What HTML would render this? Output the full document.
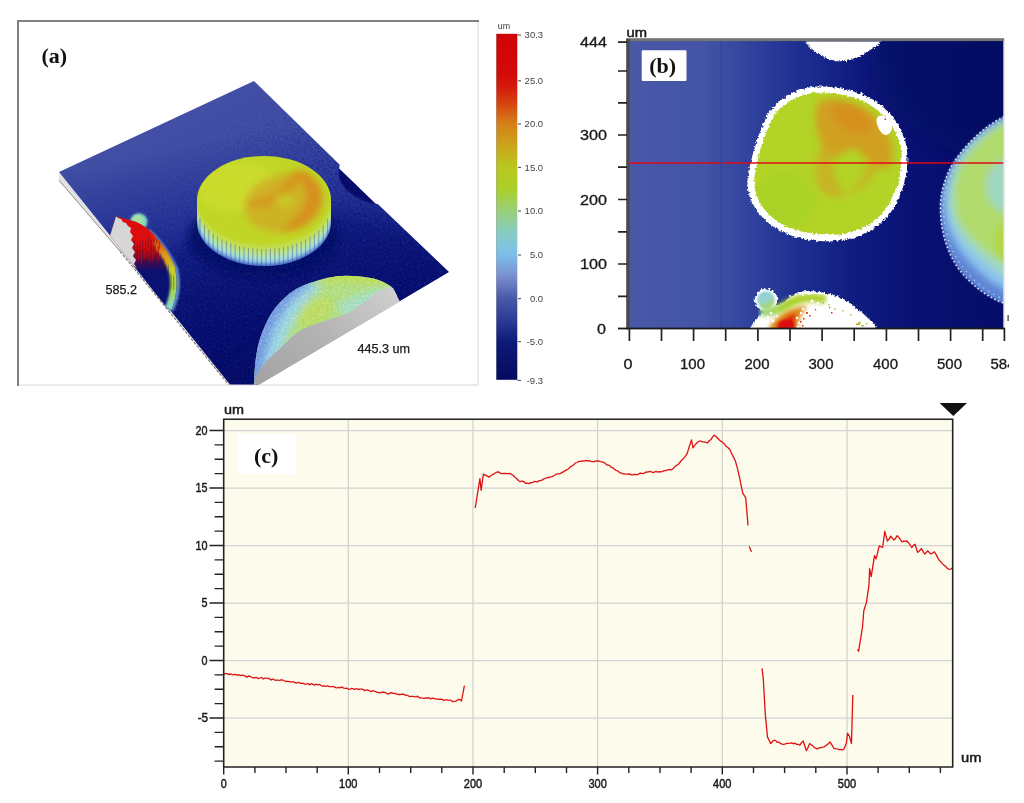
<!DOCTYPE html>
<html>
<head>
<meta charset="utf-8">
<title>Figure</title>
<style>
html,body{margin:0;padding:0;background:#fff;}
body{width:1024px;height:803px;overflow:hidden;}
svg{display:block;}
.sans{font-family:"Liberation Sans",sans-serif;}
.serif{font-family:"Liberation Serif",serif;font-weight:bold;}
</style>
</head>
<body>
<svg width="1024" height="803" viewBox="0 0 1024 803">
<defs>
  <linearGradient id="cbar" x1="0" y1="0" x2="0" y2="1">
    <stop offset="0" stop-color="#d00508"/>
    <stop offset="0.10" stop-color="#d2080a"/>
    <stop offset="0.15" stop-color="#d5160b"/>
    <stop offset="0.20" stop-color="#d5420f"/>
    <stop offset="0.26" stop-color="#d58018"/>
    <stop offset="0.32" stop-color="#cca21b"/>
    <stop offset="0.385" stop-color="#b8c81e"/>
    <stop offset="0.45" stop-color="#a9cf2a"/>
    <stop offset="0.51" stop-color="#99cf78"/>
    <stop offset="0.57" stop-color="#88cdbd"/>
    <stop offset="0.635" stop-color="#7cbfea"/>
    <stop offset="0.70" stop-color="#7a8fd0"/>
    <stop offset="0.765" stop-color="#4a58a8"/>
    <stop offset="0.83" stop-color="#2b3a94"/>
    <stop offset="0.89" stop-color="#0e1a78"/>
    <stop offset="1" stop-color="#050a5e"/>
  </linearGradient>
  <linearGradient id="slab" gradientUnits="userSpaceOnUse" x1="150" y1="100" x2="210" y2="380">
    <stop offset="0" stop-color="#4450a5"/>
    <stop offset="0.18" stop-color="#404ea4"/>
    <stop offset="0.39" stop-color="#2a3898"/>
    <stop offset="0.55" stop-color="#19268a"/>
    <stop offset="0.685" stop-color="#0f1978"/>
    <stop offset="0.85" stop-color="#080f6c"/>
    <stop offset="1" stop-color="#060c64"/>
  </linearGradient>
  <clipPath id="boxa"><rect x="19" y="21" width="459" height="363.5"/></clipPath>
  <clipPath id="slabclip"><polygon points="254,81 339.7,164.7 339,168.5 375.5,203.8 378,204.3 449,272 246,392 236,392 59,172"/></clipPath>
  <clipPath id="discall">
    <path d="M197,200 A67,44 0 0 1 331,200 L331,222 A67,44 0 0 1 197,222 Z"/>
  </clipPath>
  <clipPath id="disctop"><ellipse cx="264" cy="200" rx="66" ry="43"/></clipPath>
  <clipPath id="finclip">
    <path d="M110,236 L116,216.5 L136,222 C152,229 166,247 174.5,266 C178.5,283 176.5,298 171,311 L167,308 Z"/>
  </clipPath>
  <clipPath id="domeclip">
    <path d="M254,386 L254.5,372 C256,350 260,336 265,326 C270,314 276,306 284,298.5 C292,291 300,286 310,283 C322,278.5 334,276 345.5,275.8 C356,275.8 366,277 373.6,278.5 C380,280 386,283 391,286.4 C394,289 396,293 397.5,298 L398,300 L256,386 Z"/>
  </clipPath>
  <linearGradient id="graysec" gradientUnits="userSpaceOnUse" x1="260" y1="380" x2="395" y2="290">
    <stop offset="0" stop-color="#a4a4a4"/>
    <stop offset="0.5" stop-color="#b4b4b4"/>
    <stop offset="1" stop-color="#cfcfcf"/>
  </linearGradient>
  <linearGradient id="finbody" gradientUnits="userSpaceOnUse" x1="0" y1="240" x2="0" y2="272">
    <stop offset="0" stop-color="#dc0a0a"/>
    <stop offset="0.3" stop-color="#b00a14"/>
    <stop offset="0.65" stop-color="#4a0a4a"/>
    <stop offset="1" stop-color="#0a1170"/>
  </linearGradient>
  <linearGradient id="finrim" gradientUnits="userSpaceOnUse" x1="0" y1="222" x2="0" y2="308">
    <stop offset="0" stop-color="#dc0a0a"/>
    <stop offset="0.15" stop-color="#dc2a0c"/>
    <stop offset="0.35" stop-color="#e08a18"/>
    <stop offset="0.55" stop-color="#c8cc28"/>
    <stop offset="0.78" stop-color="#a4d848"/>
    <stop offset="1" stop-color="#8ed6d0"/>
  </linearGradient>
  <linearGradient id="bgB" gradientUnits="userSpaceOnUse" x1="629" y1="0" x2="1004" y2="0">
    <stop offset="0" stop-color="#4958a8"/>
    <stop offset="0.2" stop-color="#4354a6"/>
    <stop offset="0.3" stop-color="#34469f"/>
    <stop offset="0.45" stop-color="#1e2f92"/>
    <stop offset="0.6" stop-color="#101c80"/>
    <stop offset="0.75" stop-color="#091274"/>
    <stop offset="1" stop-color="#050c68"/>
  </linearGradient>
  <clipPath id="plotB"><rect x="629.5" y="41.5" width="374.5" height="286.5"/></clipPath>
  <clipPath id="circB"><path id="circBp" d="M818.7,92.5 C831.7,92.0 846.4,94.8 859.3,99.4 C868.6,103.0 879.8,110.3 887.2,119.6 C895.6,129.7 900.3,140.8 901.1,152.0 C902.5,165.9 900.2,182.5 891.7,199.1 C885.4,212.2 875.2,222.4 861.2,228.7 C848.3,234.2 834.4,236.0 820.7,234.0 C807.0,233.8 791.4,229.9 779.4,222.6 C768.3,215.4 760.0,205.3 756.4,194.3 C753.7,186.9 753.9,178.6 755.5,171.3 C756.0,164.0 758.0,158.5 759.9,151.1 C763.6,138.2 767.2,129.0 772.6,117.9 C778.0,108.5 790.9,99.2 802.1,95.6 C807.6,93.8 813.2,92.6 818.7,92.5Z"/></clipPath>
  <clipPath id="clip584"><rect x="985" y="350" width="24" height="30"/></clipPath>
  <clipPath id="rblob"><path d="M1006,116 C985,125 965,145 952,165 C944,180 940,195 940.5,210 C941,230 946,250 958,268 C970,284 988,298 1006,304 Z"/></clipPath>
  <filter id="rough" x="-5%" y="-5%" width="110%" height="110%">
    <feTurbulence type="fractalNoise" baseFrequency="0.38" numOctaves="2" seed="3" result="n"/>
    <feDisplacementMap in="SourceGraphic" in2="n" scale="4.5" xChannelSelector="R" yChannelSelector="G"/>
  </filter>
  <filter id="rough2" x="-5%" y="-5%" width="110%" height="110%">
    <feTurbulence type="fractalNoise" baseFrequency="0.7" numOctaves="2" seed="11" result="n"/>
    <feDisplacementMap in="SourceGraphic" in2="n" scale="4.5" xChannelSelector="R" yChannelSelector="G"/>
  </filter>
  <linearGradient id="bumpg" x1="0" y1="0" x2="0.4" y2="1">
    <stop offset="0" stop-color="#90c8e2"/>
    <stop offset="0.6" stop-color="#96d4cc"/>
    <stop offset="1" stop-color="#a6d66a"/>
  </linearGradient>
  <linearGradient id="arcg" gradientUnits="userSpaceOnUse" x1="762" y1="0" x2="824" y2="0">
    <stop offset="0" stop-color="#9fd884"/>
    <stop offset="0.4" stop-color="#a9d22c"/>
    <stop offset="1" stop-color="#b4d030"/>
  </linearGradient>
  <filter id="noiseW" x="0" y="0" width="100%" height="100%">
    <feTurbulence type="fractalNoise" baseFrequency="0.45" numOctaves="2" seed="5"/>
    <feColorMatrix type="matrix" values="0 0 0 0 1  0 0 0 0 1  0 0 0 0 1  3 0 0 0 -1.3"/>
  </filter>
  <filter id="noiseK" x="0" y="0" width="100%" height="100%">
    <feTurbulence type="fractalNoise" baseFrequency="0.45" numOctaves="2" seed="9"/>
    <feColorMatrix type="matrix" values="0 0 0 0 0  0 0 0 0 0  0 0 0 0 0.25  3 0 0 0 -1.3"/>
  </filter>
  <linearGradient id="noiseFade" gradientUnits="userSpaceOnUse" x1="150" y1="150" x2="260" y2="300">
    <stop offset="0" stop-color="#000"/>
    <stop offset="0.6" stop-color="#fff"/>
  </linearGradient>
  <mask id="noiseMask"><rect x="0" y="0" width="500" height="400" fill="url(#noiseFade)"/></mask>
  <filter id="b1"><feGaussianBlur stdDeviation="1"/></filter>
  <filter id="b2"><feGaussianBlur stdDeviation="2"/></filter>
  <filter id="b3"><feGaussianBlur stdDeviation="3.5"/></filter>
  <filter id="b12" x="-30%" y="-30%" width="160%" height="160%"><feGaussianBlur stdDeviation="14"/></filter>
  <filter id="b6"><feGaussianBlur stdDeviation="6"/></filter>
</defs>

<!-- ============ PANEL (a) ============ -->
<g id="panelA">
  <rect x="18.5" y="20.5" width="459.5" height="364" fill="#fff" stroke="none"/>
  <line x1="17" y1="21" x2="479" y2="21" stroke="#808080" stroke-width="2"/>
  <line x1="18" y1="20" x2="18" y2="386" stroke="#808080" stroke-width="2"/>
  <line x1="19" y1="385" x2="479" y2="385" stroke="#ebebeb" stroke-width="1.8"/>
  <line x1="478" y1="22" x2="478" y2="386" stroke="#ebebeb" stroke-width="1.9"/>
  <g clip-path="url(#boxa)">
    <!-- slab side (thickness) -->
    <polygon points="59,172 59,180 120,251 236,393.5 238,392" fill="#e2e2e2"/><line x1="59" y1="180.3" x2="120" y2="251.3" stroke="#8a8a8a" stroke-width="1"/><line x1="120" y1="251.3" x2="236" y2="393.8" stroke="#777" stroke-width="1.1" stroke-dasharray="3 1.5"/>
    <!-- slab top -->
    <polygon points="254,81 339.7,164.7 339,168.5 375.5,203.8 378,204.3 449,272 246,392 236,392 59,172" fill="url(#slab)"/>
  </g>
  <g clip-path="url(#boxa)">
    <g clip-path="url(#slabclip)">
      <!-- darkening towards center / right -->
      <ellipse cx="300" cy="300" rx="150" ry="90" fill="#060d6a" opacity="0.3" filter="url(#b6)"/>
      <!-- trench around disc -->
      <ellipse cx="264" cy="238" rx="76" ry="40" fill="#050b62" opacity="0.8" filter="url(#b3)"/>
      <path d="M339.3,167.5 C336.5,176 341,186 349,192.5 C357,199 367,203 377,204.5 Z" fill="#050a66"/>
      <path d="M339.3,167.5 C336.5,176 341,186 349,192.5 C357,199 367,203 377,204.5" fill="none" stroke="#2a3a9c" stroke-width="1.2" opacity="0.6" filter="url(#b1)"/>
      <g mask="url(#noiseMask)">
        <rect x="50" y="80" width="410" height="310" filter="url(#noiseW)" opacity="0.05"/>
        <rect x="50" y="80" width="410" height="310" filter="url(#noiseK)" opacity="0.3"/>
      </g>
    </g>
    <!-- disc wall -->
    <g clip-path="url(#discall)">
      <rect x="190" y="150" width="150" height="70" fill="#c0d628"/><rect x="190" y="220" width="150" height="55" fill="#4f70c8"/>
      <g filter="url(#b1)">
        <ellipse cx="264" cy="220" rx="67" ry="44" fill="#86bde0"/>
        <ellipse cx="264" cy="217" rx="67" ry="44" fill="#a6dfd0"/>
        <ellipse cx="264" cy="213" rx="67" ry="44" fill="#b6e39c"/>
        <ellipse cx="264" cy="209" rx="67" ry="44" fill="#c0df68"/>
        <ellipse cx="264" cy="205" rx="67" ry="44" fill="#c1dd48"/>
        <ellipse cx="264" cy="201.5" rx="66.5" ry="43.5" fill="#c0d628"/>
      </g>
      <g stroke="#2a3ea8" stroke-width="1" opacity="0.42">
        <path d="M200.0,218.0v17.0M204.4,225.1v17.0M208.8,229.9v17.0M213.2,233.7v17.0M217.6,236.7v17.0M222.0,239.3v17.0M226.4,241.4v17.0M230.8,243.2v17.0M235.2,244.7v17.0M239.6,246.0v17.0M244.0,247.0v17.0M248.4,247.8v17.0M252.8,248.4v17.0M257.2,248.8v17.0M261.6,249.0v17.0M266.0,249.0v17.0M270.4,248.8v17.0M274.8,248.4v17.0M279.2,247.9v17.0M283.6,247.1v17.0M288.0,246.1v17.0M292.4,244.9v17.0M296.8,243.4v17.0M301.2,241.6v17.0M305.6,239.5v17.0M310.0,237.0v17.0M314.4,234.0v17.0M318.8,230.3v17.0M323.2,225.6v17.0M327.6,218.8v17.0"/>
      </g>
      <g stroke="#e8fbf4" stroke-width="1" opacity="0.1">
        <path d="M202.2,224.0v12.0M206.6,229.7v12.0M211.0,233.9v12.0M215.4,237.3v12.0M219.8,240.1v12.0M224.2,242.4v12.0M228.6,244.4v12.0M233.0,246.0v12.0M237.4,247.4v12.0M241.8,248.5v12.0M246.2,249.4v12.0M250.6,250.1v12.0M255.0,250.6v12.0M259.4,250.9v12.0M263.8,251.0v12.0M268.2,250.9v12.0M272.6,250.6v12.0M277.0,250.2v12.0M281.4,249.5v12.0M285.8,248.6v12.0M290.2,247.5v12.0M294.6,246.1v12.0M299.0,244.5v12.0M303.4,242.6v12.0M307.8,240.3v12.0M312.2,237.6v12.0M316.6,234.3v12.0M321.0,230.1v12.0M325.4,224.6v12.0"/>
      </g>
    </g>
    <!-- disc top -->
    <g clip-path="url(#disctop)">
      <g filter="url(#b3)">
        <ellipse cx="236" cy="186" rx="40" ry="26" fill="#cbdb2e" opacity="0.9"/>
        <ellipse cx="284" cy="203" rx="40" ry="29" fill="#d2a422" opacity="0.7" transform="rotate(-12 284 203)"/>
        <path d="M297,170 C310,170 322,182 322,196 C322,210 312,222 300,228 C292,232 284,232 280,230 C296,220 306,208 306,196 C306,186 302,178 292,176Z" fill="#d98a1c" opacity="0.85"/>
        <path d="M298,170 C290,172 286,180 280,188 C270,196 254,198 244,204 C250,210 262,208 274,204 C286,198 296,188 304,178Z" fill="#d6941e" opacity="0.8"/>
        <ellipse cx="284" cy="200" rx="9" ry="6" fill="#c8d42a" opacity="0.7"/>
      </g>
    </g>
    <!-- left red fin -->
    <circle cx="138.8" cy="221.8" r="8.6" fill="#86d7c4" filter="url(#b1)"/>
    <circle cx="137.5" cy="220" r="5" fill="#a4dfa0" filter="url(#b1)"/>
    <path d="M148,230.6 C160,241 170,256 176,268.5 C179.5,283 177.5,298 171.5,310.5" fill="none" stroke="#8cc8ee" stroke-width="4" opacity="0.7" filter="url(#b1)"/>
    <g clip-path="url(#finclip)">
      <rect x="105" y="205" width="80" height="110" fill="url(#finbody)"/>
      <path d="M156,236 L162,262 L164,300 L180,310 L185,240 Z" fill="#0a1170" opacity="0" />
      <path d="M129,219 C148,226 160,241 170,256 C173,262 176,268.5 177,275 C178.5,285 177.5,298 171.5,311" fill="none" stroke="url(#finrim)" stroke-width="15" filter="url(#b1)"/>
      <path d="M114,214 L136,220 L150,229 L154,240 L150,250 L132,250 L128,226Z" fill="#dc0a0a" filter="url(#b1)"/>
      <path d="M133.0,245.0v13.4M135.8,246.4v14.3M138.6,244.1v16.4M141.4,244.9v18.0M144.2,247.3v12.8M147.0,244.6v14.3M149.8,246.1v15.4M152.6,244.3v15.6M155.4,245.2v8.3M158.2,245.9v15.2" stroke="#c80a10" stroke-width="1.2" fill="none" opacity="0.75"/>
      <path d="M134.4,240.7v9.4M137.2,244.0v10.0M140.0,240.5v11.5M142.8,240.1v12.6M145.6,241.5v8.9M148.4,237.4v10.0M151.2,240.1v10.8M154.0,238.7v10.9M156.8,238.0v5.8M159.6,238.6v10.6" stroke="#3a0a40" stroke-width="1" fill="none" opacity="0.45"/>
      <path d="M158.0,251.3v21.1M160.6,253.5v19.6M163.2,258.0v21.2M165.8,264.8v11.2M168.4,264.5v12.6M171.0,273.6v15.2M173.6,275.7v13.6" stroke="#0a1170" stroke-width="1" fill="none" opacity="0.35"/>
      <polygon points="114,214 118,218 121,219 123,222 126,223 128,226 131,228 130,232 133,236 131,240 134,244 132,248 135,252 133,256 136,260 134,264 137,268 120,256 108,240" fill="#d6d6d6"/>
    </g>
    <!-- bottom right dome -->
    <g clip-path="url(#domeclip)">
      <rect x="240" y="265" width="170" height="125" fill="#addb7c"/>
      <g filter="url(#b3)">
        <path d="M246,392 L246,340 C256,306 284,282 316,272 L306,292 C282,310 270,350 266,392Z" fill="#6f98e0"/>
        <path d="M262,392 C262,344 280,304 314,282 L322,288 C296,306 280,344 276,392Z" fill="#96d4e6" opacity="0.9"/>
        <path d="M336,304 C356,294 380,287 398,286 L400,300 L350,324Z" fill="#a2dcc0"/>
        <path d="M326,268 C350,266 380,270 402,284 L396,291 C380,283 350,279 326,283Z" fill="#bcdc50"/>
        <ellipse cx="315" cy="312" rx="22" ry="12" fill="#bcda52" opacity="0.7" transform="rotate(-35 315 312)"/>
      </g>
      <rect x="240" y="265" width="170" height="125" filter="url(#noiseW)" opacity="0.25"/>
    </g>
    <path d="M253,386 L257,374 C262,366 270,357 279,349.5 C286,343 292,336 298,332 C306,327 312,325 319,323 C328,320 338,317 345.5,314.5 C354,310 360,305 366.6,300.4 C372,296 378,291 384,289 C388,287 391,287 393,288 L398,298 L400,301.5 L250,390Z" fill="url(#graysec)"/>
  </g>
  <text x="41.5" y="63" class="serif" font-size="22" fill="#111">(a)</text>
  <text x="105.5" y="293.5" class="sans" font-size="12.6" fill="#1a1a1a" stroke="#1a1a1a" stroke-width="0.25">585.2</text>
  <text x="357.5" y="352.5" class="sans" font-size="12.6" fill="#1a1a1a" stroke="#1a1a1a" stroke-width="0.25">445.3 um</text>
</g>

<!-- ============ COLORBAR ============ -->
<g id="cbarg">
  <rect x="496.3" y="33.8" width="21" height="346" fill="url(#cbar)"/><line x1="496.5" y1="34" x2="496.5" y2="380" stroke="#555" stroke-width="0.5" opacity="0.5"/>
  <text x="497.8" y="28.8" class="sans" font-size="9.4" fill="#3c3c3c" textLength="12.3" lengthAdjust="spacingAndGlyphs">um</text>
  <g class="sans" font-size="9.5" fill="#444">
    <text x="524.6" y="38.3">30.3</text>
    <text x="524.6" y="84.1">25.0</text>
    <text x="524.6" y="127.4">20.0</text>
    <text x="524.6" y="170.8">15.0</text>
    <text x="524.6" y="214.4">10.0</text>
    <text x="529.9" y="258.4">5.0</text>
    <text x="529.9" y="302">0.0</text>
    <text x="526.7" y="345.4">-5.0</text>
    <text x="526.7" y="384">-9.3</text>
  </g>
  <g stroke="#444" stroke-width="1">
    <line x1="517.5" y1="35" x2="521" y2="35"/>
    <line x1="518" y1="80.8" x2="521" y2="80.8"/>
    <line x1="518" y1="124" x2="521" y2="124"/>
    <line x1="518" y1="167.4" x2="521" y2="167.4"/>
    <line x1="518" y1="211" x2="521" y2="211"/>
    <line x1="518" y1="255" x2="521" y2="255"/>
    <line x1="518" y1="298.7" x2="521" y2="298.7"/>
    <line x1="518" y1="341.7" x2="521" y2="341.7"/>
    <line x1="517.5" y1="380.3" x2="521" y2="380.3"/>
  </g>
</g>

<!-- ============ PANEL (b) ============ -->
<g id="panelB">
  <rect x="629" y="41" width="375" height="287.5" fill="url(#bgB)"/>
  <g clip-path="url(#plotB)">
    <!-- vertical band lighter at left -->
    <ellipse cx="1010" cy="50" rx="140" ry="110" fill="#03085c" opacity="0.5" filter="url(#b12)"/>
    <line x1="721.3" y1="41" x2="721.3" y2="328" stroke="#2a3e9c" stroke-width="1"/>
    <!-- top white partial circle -->
    <path d="M803,36 L806,43 C812,50 822,57 832,60 C838,61.8 846,61.8 852,59.5 C862,56 874,48 881,42 L884,36Z" fill="#fff" filter="url(#rough)"/>
    <!-- right partial blob -->
    <g>
      <path d="M1006,116 C985,125 965,145 952,165 C944,180 940,195 940.5,210 C941,230 946,250 958,268 C970,284 988,298 1006,304 Z" fill="#5f86d6" filter="url(#b1)"/>
      <g clip-path="url(#rblob)">
        <g filter="url(#b3)">
          <path d="M1010,116 C985,126 964,146 953,166 C946,181 943,196 944.5,210 C946,228 954,244 966,258 C978,272 992,284 1010,292 Z" fill="#8cc4ec"/>
          <path d="M1010,118 C986,128 966,147 955,167 C949,182 947,197 949,210 C952,226 961,240 974,252 C986,264 998,274 1010,280 Z" fill="#9fd8c6"/>
          <path d="M1010,120 C988,130 969,150 959,169 C952,188 953,205 958,219 C965,235 980,250 1010,268 Z" fill="#b0da6c"/>
          <ellipse cx="1006" cy="186" rx="20" ry="26" fill="#9fd6c0"/>
          <ellipse cx="1008" cy="242" rx="12" ry="22" fill="#b2d63a"/>
        </g>
      </g>
      <path d="M1004,117 C985,125 965,145 952,165 C944,180 940,195 940.5,210 C941,230 946,250 958,268 C970,284 988,298 1004,303" fill="none" stroke="#fff" stroke-width="1.6" stroke-dasharray="1.5 2.5" opacity="0.9"/>
      <path d="M1004,120 C987,128 968,147 955,167 C947,182 943,196 943.5,210 C944,229 949,248 961,265 C972,280 989,294 1004,299" fill="none" stroke="#fff" stroke-width="1.2" stroke-dasharray="1 5" opacity="0.7"/>
    </g>
    <!-- bottom partial circle -->
    <g>
      <g filter="url(#rough)">
        <circle cx="766" cy="300" r="11.3" fill="#fff"/>
        <path d="M748,332 C752,324 756,319 762,314 C770,308 778,305 784,302.5 C790,297 796,292.5 804,291.3 C812,290.5 822,292 832,294.5 C842,297.5 850,302 858,309 C866,316 873,322 880,332 Z" fill="#fff"/>
      </g>
      <circle cx="766" cy="300" r="8.8" fill="url(#bumpg)" filter="url(#b1)"/>
      <g filter="url(#b2)">
        <path d="M764,312 C772,313 780,309 788,304 C798,298 808,296 822,299" fill="none" stroke="url(#arcg)" stroke-width="9" stroke-linecap="round"/>
        <path d="M768,330 C772,320 782,313 792,309 C798,307 804,306 808,306 C802,312 798,320 797,332Z" fill="#dd8a18"/>
        <path d="M774,332 C778,322 786,316 796,313 C794,320 795,326 795,332Z" fill="#dc0a0a"/>
      </g>
      <ellipse cx="786" cy="325" rx="8" ry="5" fill="#dc0a0a" filter="url(#b1)"/>
      <g fill="#fff">
        <circle cx="762" cy="322" r="1.5"/><circle cx="768" cy="317" r="1.3"/><circle cx="773" cy="321" r="1.4"/><circle cx="766" cy="326" r="1.2"/><circle cx="771" cy="313" r="1.2"/><circle cx="759" cy="326" r="1.3"/><circle cx="777" cy="316" r="1"/>
        <circle cx="797" cy="318" r="1.2"/><circle cx="799" cy="323" r="1.3"/><circle cx="801" cy="313" r="1.2"/><circle cx="798" cy="327" r="1.2"/><circle cx="803" cy="309" r="1.3"/><circle cx="812" cy="301" r="1.6"/><circle cx="818" cy="303" r="1.2"/>
        <circle cx="790" cy="296" r="1"/><circle cx="796" cy="294" r="1"/><circle cx="803" cy="295" r="1"/><circle cx="809" cy="294" r="1"/>
      </g>
      <g fill="#dc2a12">
        <rect x="806" y="312" width="1.8" height="1.8"/><rect x="809" y="315" width="1.5" height="1.5"/><rect x="803" y="318" width="1.5" height="1.5"/><rect x="800" y="321" width="1.5" height="1.5"/><rect x="815" y="309" width="1.2" height="1.2"/><rect x="831" y="312" width="1.5" height="1.5"/><rect x="829" y="307" width="1.2" height="1.2"/><rect x="802" y="325" width="1.5" height="1.5"/>
      </g>
      <g fill="#9ccf40">
        <rect x="822" y="302" width="2" height="1.5"/><rect x="828" y="304" width="1.5" height="1.5"/><rect x="834" y="308" width="1.5" height="1.5"/><rect x="842" y="310" width="1.5" height="1.5"/><rect x="850" y="314" width="1.5" height="1.5"/><rect x="858" y="322" width="3" height="1.5"/><rect x="861" y="325" width="3" height="1.5"/><rect x="866" y="323" width="1.5" height="1.5"/>
      </g>
      <rect x="856" y="323.5" width="4" height="1.5" fill="#d8901c"/>
    </g>
    <!-- main circle -->
    <path d="M818,86.5 C832,86 848,89 862,94 C872,98 884,106 892,116 C901,127 906,139 907,151 C908.5,166 906,184 897,202 C890,216 879,227 864,234 C850,240 835,242 820,241 C805,240.5 788,236 775,228 C763,220 754,209 750,197 C747,189 747,180 748.5,172 C750,164 752,158 754,150 C758,136 762,126 768,114 C774,104 788,94 800,90 C806,88 812,86.7 818,86.5Z" fill="#fff" filter="url(#rough)"/>
    <path d="M818.7,92.5 C831.7,92.0 846.4,94.8 859.3,99.4 C868.6,103.0 879.8,110.3 887.2,119.6 C895.6,129.7 900.3,140.8 901.1,152.0 C902.5,165.9 900.2,182.5 891.7,199.1 C885.4,212.2 875.2,222.4 861.2,228.7 C848.3,234.2 834.4,236.0 820.7,234.0 C807.0,233.8 791.4,229.9 779.4,222.6 C768.3,215.4 760.0,205.3 756.4,194.3 C753.7,186.9 753.9,178.6 755.5,171.3 C756.0,164.0 758.0,158.5 759.9,151.1 C763.6,138.2 767.2,129.0 772.6,117.9 C778.0,108.5 790.9,99.2 802.1,95.6 C807.6,93.8 813.2,92.6 818.7,92.5Z" fill="#b3d326" filter="url(#rough)"/>
    <g clip-path="url(#circB)">
      <g filter="url(#b3)">
        <ellipse cx="785" cy="200" rx="30" ry="28" fill="#a8d228" opacity="0.8"/>
        <path d="M820,101 C834,95 862,102 878,119 C890,133 896,150 890,166 C882,172 870,164 860,152 C852,146 844,150 836,158 C826,156 818,140 816,124 C815,112 816,104 820,101Z" fill="#d6971f" opacity="0.85"/>
        <ellipse cx="852" cy="118" rx="22" ry="12" fill="#d98a1c" opacity="0.7" transform="rotate(30 852 118)"/>
        <path d="M826,140 C816,150 812,170 818,186 C824,196 836,200 846,196 C838,186 830,170 834,150Z" fill="#cfa824" opacity="0.7"/>
        <path d="M846,196 C860,192 872,180 880,166 L868,160 C864,176 856,186 846,196Z" fill="#cfa824" opacity="0.6"/>
      </g>
    </g>
    <path d="M879,116 C884,114 890,118 892,124 C893,130 890,134 886,135 C882,135 880,131 878,127 C876,122 876,118 879,116Z" fill="#fff"/>
    <rect x="884.5" y="118.5" width="1.5" height="1.5" fill="#e02020"/>
    <!-- red line -->
    <line x1="629" y1="163" x2="1004" y2="163" stroke="#e00a14" stroke-width="1.6"/>
    <rect x="720.3" y="161.5" width="2" height="3" fill="#34469f"/>
  </g>
  <!-- axes -->
  <rect x="626.2" y="38.2" width="378" height="2.9" fill="#747470"/>
  <rect x="626.2" y="38.8" width="3.4" height="290.5" fill="#4a4a4a"/>
  <rect x="1003.3" y="41" width="1.8" height="287" fill="#e8e8e8"/>
  <rect x="618" y="327.6" width="387" height="1.8" fill="#1a1a1a"/>
  <rect x="1007.5" y="315" width="1.2" height="6" fill="#333"/>
  <g stroke="#222" stroke-width="1.7">
    <path d="M618,42.2H627 M618,71H627 M618,102.9H627 M618,135H627 M618,167.2H627 M618,199.5H627 M618,231.8H627 M618,264H627 M618,296.3H627"/>
    <path d="M629.4,328V341 M661.5,328V341 M693.6,328V341 M725.7,328V341 M757.9,328V341 M790,328V341 M822.1,328V341 M854.2,328V341 M886.4,328V341 M918.5,328V341 M950.6,328V341 M982.7,328V341 M1004.4,328V341"/>
  </g>
  <g class="sans" font-size="14" fill="#1a1a1a" stroke="#1a1a1a" stroke-width="0.3">
    <text x="580" y="47.3" textLength="27" lengthAdjust="spacingAndGlyphs">444</text>
    <text x="580" y="140" textLength="27" lengthAdjust="spacingAndGlyphs">300</text>
    <text x="580" y="204.5" textLength="27" lengthAdjust="spacingAndGlyphs">200</text>
    <text x="580" y="269" textLength="27" lengthAdjust="spacingAndGlyphs">100</text>
    <text x="597" y="333.5" textLength="9" lengthAdjust="spacingAndGlyphs">0</text>
    <text x="623.5" y="369.3" textLength="9" lengthAdjust="spacingAndGlyphs">0</text>
    <text x="680" y="369.3" textLength="25" lengthAdjust="spacingAndGlyphs">100</text>
    <text x="744.5" y="369.3" textLength="25" lengthAdjust="spacingAndGlyphs">200</text>
    <text x="808.5" y="369.3" textLength="25" lengthAdjust="spacingAndGlyphs">300</text>
    <text x="873" y="369.3" textLength="25" lengthAdjust="spacingAndGlyphs">400</text>
    <text x="937" y="369.3" textLength="25" lengthAdjust="spacingAndGlyphs">500</text>
    <text x="990.5" y="369.3" textLength="25" lengthAdjust="spacingAndGlyphs" clip-path="url(#clip584)">584</text>
  </g>
  <text x="626.5" y="36.8" class="sans" font-size="12.5" fill="#1a1a1a" stroke="#1a1a1a" stroke-width="0.45" textLength="20.5" lengthAdjust="spacingAndGlyphs">um</text>
  <rect x="641.7" y="50.2" width="44.8" height="30.7" rx="1.2" fill="#fff"/>
  <text x="649.3" y="73" class="serif" font-size="22" fill="#111">(b)</text>
</g>


<!-- PANEL_C_START -->
<!-- ============ PANEL (c) ============ -->
<g id="panelC">
  <rect x="224.0" y="419.5" width="729.0" height="347.5" fill="#fdfbec"/>
  <path d="M348.3,419.5V767.0 M473.0,419.5V767.0 M597.6,419.5V767.0 M722.3,419.5V767.0 M847.0,419.5V767.0 M224.0,430.5H953.0 M224.0,488.0H953.0 M224.0,545.5H953.0 M224.0,603.0H953.0 M224.0,660.5H953.0 M224.0,718.0H953.0" stroke="#d2d2d2" stroke-width="1.25" fill="none"/>
  <rect x="237.5" y="434" width="58.7" height="40.3" fill="#fff"/>
  <path d="M224.0,673.8 L225.6,673.7 L227.3,673.6 L228.9,674.6 L230.5,673.8 L232.2,674.8 L233.8,674.7 L235.5,674.3 L237.1,675.3 L238.7,674.7 L240.4,675.6 L242.0,675.1 L243.6,675.4 L245.3,676.1 L246.9,677.1 L248.5,676.0 L250.2,676.4 L251.8,677.3 L253.5,678.0 L255.1,677.6 L256.7,677.4 L258.4,678.7 L260.0,678.0 L261.6,677.4 L263.2,679.0 L264.8,678.2 L266.4,678.2 L268.0,678.3 L269.6,678.9 L271.2,680.0 L272.8,679.0 L274.4,679.9 L276.0,680.3 L277.6,680.0 L279.2,680.5 L280.8,679.8 L282.4,680.0 L284.0,680.5 L285.6,681.5 L287.2,681.3 L288.8,681.3 L290.4,682.0 L292.0,681.9 L293.6,681.8 L295.2,682.9 L296.8,683.0 L298.4,682.3 L300.0,683.0 L301.6,683.3 L303.2,683.4 L304.9,684.2 L306.5,684.1 L308.1,683.5 L309.7,684.9 L311.3,683.6 L313.0,684.3 L314.6,685.1 L316.2,684.2 L317.8,685.0 L319.4,684.3 L321.1,685.6 L322.7,686.0 L324.3,685.8 L325.9,686.5 L327.6,685.7 L329.2,686.6 L330.8,686.6 L332.4,686.7 L334.0,686.7 L335.7,687.6 L337.3,687.9 L338.9,687.3 L340.5,687.8 L342.1,686.9 L343.8,688.2 L345.4,688.3 L347.0,688.2 L348.6,689.3 L350.2,689.2 L351.8,688.4 L353.4,688.8 L355.0,689.5 L356.6,688.5 L358.2,689.5 L359.8,689.1 L361.5,689.2 L363.1,689.3 L364.7,690.8 L366.3,689.8 L367.9,690.2 L369.5,690.7 L371.1,691.7 L372.7,690.5 L374.3,691.4 L375.9,691.7 L377.5,692.5 L379.1,692.6 L380.7,692.9 L382.3,692.0 L383.9,692.4 L385.5,692.5 L387.2,693.7 L388.8,694.0 L390.4,692.7 L392.0,693.0 L393.6,693.3 L395.2,693.4 L396.8,694.1 L398.4,694.5 L400.0,694.5 L401.6,694.3 L403.2,694.0 L404.8,695.0 L406.4,695.1 L408.1,695.7 L409.7,696.6 L411.3,696.4 L412.9,696.3 L414.5,696.7 L416.1,697.0 L417.7,696.1 L419.3,697.8 L420.9,697.8 L422.6,698.2 L424.2,698.3 L425.8,697.8 L427.4,698.0 L429.0,697.7 L430.6,698.9 L432.2,698.1 L433.8,698.3 L435.4,698.8 L437.1,698.9 L438.7,699.5 L440.3,699.2 L441.9,699.3 L443.5,700.4 L445.3,699.9 L447.1,699.9 L448.9,700.5 L450.6,700.0 L452.4,701.6 L454.2,701.3 L456.0,701.2 L458.0,699.7 L460.0,699.5 L461.5,701.0 L463.0,693.0 L463.6,690.0 L464.4,685.7 M475.2,507.9 L477.6,493.2 L479.9,478.6 L481.1,490.3 L483.4,474.2 L486.4,475.7 L489.3,477.1 L491.1,475.5 L493.0,474.4 L494.8,473.2 L496.6,472.2 L498.5,471.9 L500.3,473.2 L502.1,473.7 L504.0,473.3 L505.8,473.5 L507.6,473.7 L509.5,473.4 L511.3,474.2 L513.1,475.3 L515.0,477.2 L516.8,478.7 L518.6,480.7 L520.3,481.6 L522.0,481.2 L523.8,481.5 L525.5,483.3 L527.2,483.2 L528.9,483.6 L530.6,482.6 L532.3,482.7 L534.0,481.5 L535.7,481.7 L537.4,481.9 L539.1,480.7 L540.7,480.7 L542.4,479.9 L544.0,478.7 L545.6,478.3 L547.3,477.5 L548.9,477.7 L550.5,476.9 L552.2,476.6 L553.8,475.7 L555.5,474.7 L557.1,473.8 L558.8,473.9 L560.5,473.4 L562.2,472.4 L563.8,471.6 L565.5,470.4 L567.2,469.7 L568.8,468.5 L570.5,466.6 L572.2,465.9 L573.9,464.6 L575.5,463.0 L577.2,462.5 L579.0,461.4 L580.7,461.4 L582.5,460.9 L584.2,461.1 L586.0,460.4 L587.6,461.2 L589.2,460.6 L590.9,461.4 L592.5,461.6 L594.1,461.7 L595.7,461.0 L597.4,460.9 L599.0,461.1 L600.6,461.6 L602.4,461.9 L604.1,462.7 L605.9,464.1 L607.6,465.2 L609.4,465.4 L611.1,467.1 L612.8,467.8 L614.5,469.3 L616.3,470.7 L618.0,470.9 L619.7,472.7 L621.4,473.2 L623.0,473.8 L624.6,473.9 L626.3,474.1 L628.0,474.0 L629.6,473.8 L631.2,474.9 L632.9,474.8 L634.5,474.3 L636.1,474.6 L637.8,474.6 L639.4,473.5 L641.0,473.2 L642.6,473.7 L644.3,473.1 L645.9,472.0 L647.5,472.2 L649.2,471.6 L650.8,471.5 L652.5,472.5 L654.2,472.3 L655.9,471.3 L657.5,472.1 L659.2,471.6 L660.9,472.0 L662.6,471.3 L664.3,470.6 L665.9,470.6 L667.6,469.8 L669.3,469.4 L671.0,469.8 L672.8,469.0 L674.5,467.1 L676.3,465.5 L678.0,464.6 L679.8,462.5 L681.6,460.2 L683.5,458.6 L685.3,456.4 L687.1,453.7 L689.3,446.4 L691.5,439.9 L692.9,447.8 L694.9,445.2 L696.8,443.0 L698.8,441.1 L700.6,441.1 L702.3,441.9 L704.1,441.8 L705.8,442.4 L707.6,442.9 L709.3,440.5 L711.0,439.6 L712.6,436.9 L714.3,435.2 L716.3,436.8 L718.2,438.7 L720.2,440.9 L722.2,442.0 L724.1,443.7 L725.9,446.2 L727.8,447.5 L729.6,449.3 L731.5,453.2 L733.5,457.1 L735.4,461.0 L737.6,469.1 L739.8,478.6 L742.7,493.2 L745.7,497.6 L748.0,525.5 M749.2,546.6 L751.5,551.8 M762.0,668.4 L763.3,678.8 L765.3,714.4 L767.5,737.1 L769.1,740.3 L770.8,743.6 L772.4,741.5 L774.0,740.4 L775.6,740.4 L777.2,742.4 L778.9,742.2 L780.5,743.4 L782.1,744.2 L783.7,744.3 L785.3,743.9 L787.0,743.3 L788.6,743.4 L790.2,743.2 L791.8,742.9 L793.4,743.8 L795.0,743.2 L796.7,744.4 L798.3,744.3 L799.9,745.2 L801.5,742.7 L803.2,741.0 L806.4,750.7 L808.0,747.6 L809.7,743.6 L811.3,744.8 L813.0,746.1 L814.6,747.7 L816.2,748.5 L817.8,748.8 L819.4,747.7 L821.1,747.7 L822.7,747.1 L824.3,746.8 L826.2,745.2 L828.2,743.9 L830.1,742.0 L832.0,745.2 L834.0,748.5 L835.6,748.7 L837.2,748.8 L838.9,749.7 L840.5,749.4 L842.1,749.9 L843.7,749.4 L846.3,743.6 L847.6,733.2 L849.5,736.5 L851.5,743.6 L852.8,695.0 M857.3,649.6 L858.6,651.2 L860.5,639.6 L862.5,626.9 L863.8,610.7 L866.4,602.6 L869.0,584.8 L869.6,568.6 L871.2,576.7 L872.9,565.9 L874.5,555.6 L876.1,558.9 L879.3,545.9 L881.0,546.8 L882.6,547.5 L884.8,531.3 L887.4,541.0 L889.0,539.1 L890.7,536.2 L893.9,540.1 L895.5,538.3 L897.2,535.6 L899.6,538.4 L902.0,542.0 L903.6,541.2 L905.3,541.3 L906.9,541.0 L908.5,542.7 L910.1,545.0 L911.7,547.5 L913.4,545.4 L915.0,544.3 L917.6,552.4 L919.5,550.7 L921.5,548.5 L923.1,551.6 L924.7,554.0 L927.9,550.8 L929.5,552.9 L931.2,554.0 L934.4,551.8 L936.3,554.9 L938.3,558.9 L940.2,561.3 L942.2,563.4 L944.1,565.4 L945.7,566.3 L947.4,568.5 L949.0,569.3 L950.6,569.2 L952.2,568.0" fill="none" stroke="#de1212" stroke-width="1.3" stroke-linejoin="round"/>
  <path d="M223.7,419.2H952.7V767.0H223.7Z" fill="none" stroke="#222" stroke-width="1.6"/>
  <path d="M209.5,430.5H224.0 M214.6,444.9H224.0 M214.6,459.2H224.0 M214.6,473.6H224.0 M209.5,488.0H224.0 M214.6,502.4H224.0 M214.6,516.8H224.0 M214.6,531.1H224.0 M209.5,545.5H224.0 M214.6,559.9H224.0 M214.6,574.2H224.0 M214.6,588.6H224.0 M209.5,603.0H224.0 M214.6,617.4H224.0 M214.6,631.8H224.0 M214.6,646.1H224.0 M209.5,660.5H224.0 M214.6,674.9H224.0 M214.6,689.2H224.0 M214.6,703.6H224.0 M209.5,718.0H224.0 M214.6,732.4H224.0 M214.6,746.8H224.0 M214.6,761.1H224.0 M223.7,767.0V774.5 M254.9,767.0V773.0 M286.0,767.0V773.0 M317.2,767.0V773.0 M348.3,767.0V774.5 M379.5,767.0V773.0 M410.7,767.0V773.0 M441.8,767.0V773.0 M473.0,767.0V774.5 M504.2,767.0V773.0 M535.3,767.0V773.0 M566.5,767.0V773.0 M597.6,767.0V774.5 M628.8,767.0V773.0 M660.0,767.0V773.0 M691.1,767.0V773.0 M722.3,767.0V774.5 M753.5,767.0V773.0 M784.6,767.0V773.0 M815.8,767.0V773.0 M847.0,767.0V774.5 M878.1,767.0V773.0 M909.3,767.0V773.0 M940.4,767.0V773.0" stroke="#222" stroke-width="1.4" fill="none"/>
  <g class="sans" font-size="12.4" fill="#1a1a1a" stroke="#1a1a1a" stroke-width="0.45">
    <text x="207.5" y="434.9" text-anchor="end" textLength="12" lengthAdjust="spacingAndGlyphs">20</text>
    <text x="207.5" y="492.4" text-anchor="end" textLength="12" lengthAdjust="spacingAndGlyphs">15</text>
    <text x="207.5" y="549.9" text-anchor="end" textLength="12" lengthAdjust="spacingAndGlyphs">10</text>
    <text x="207.5" y="607.4" text-anchor="end" textLength="6" lengthAdjust="spacingAndGlyphs">5</text>
    <text x="207.5" y="664.9" text-anchor="end" textLength="6" lengthAdjust="spacingAndGlyphs">0</text>
    <text x="208.2" y="722.4" text-anchor="end" textLength="10.5" lengthAdjust="spacingAndGlyphs">-5</text>
    <text x="223.7" y="788" text-anchor="middle" textLength="6" lengthAdjust="spacingAndGlyphs">0</text>
    <text x="348.3" y="788" text-anchor="middle" textLength="18.4" lengthAdjust="spacingAndGlyphs">100</text>
    <text x="473.0" y="788" text-anchor="middle" textLength="18.4" lengthAdjust="spacingAndGlyphs">200</text>
    <text x="597.6" y="788" text-anchor="middle" textLength="18.4" lengthAdjust="spacingAndGlyphs">300</text>
    <text x="722.3" y="788" text-anchor="middle" textLength="18.4" lengthAdjust="spacingAndGlyphs">400</text>
    <text x="847.0" y="788" text-anchor="middle" textLength="18.4" lengthAdjust="spacingAndGlyphs">500</text>
  </g>
  <text x="223.9" y="414" class="sans" font-size="12.5" fill="#1a1a1a" stroke="#1a1a1a" stroke-width="0.45" textLength="20" lengthAdjust="spacingAndGlyphs">um</text>
  <text x="961" y="761.5" class="sans" font-size="12.5" fill="#1a1a1a" stroke="#1a1a1a" stroke-width="0.45" textLength="20.5" lengthAdjust="spacingAndGlyphs">um</text>
  <polygon points="939.6,403 967,403 953.3,416" fill="#111"/>
  <text x="254" y="462.5" class="serif" font-size="22" fill="#111">(c)</text>
</g>
<!-- PANEL_C_END -->

</svg>
</body>
</html>
